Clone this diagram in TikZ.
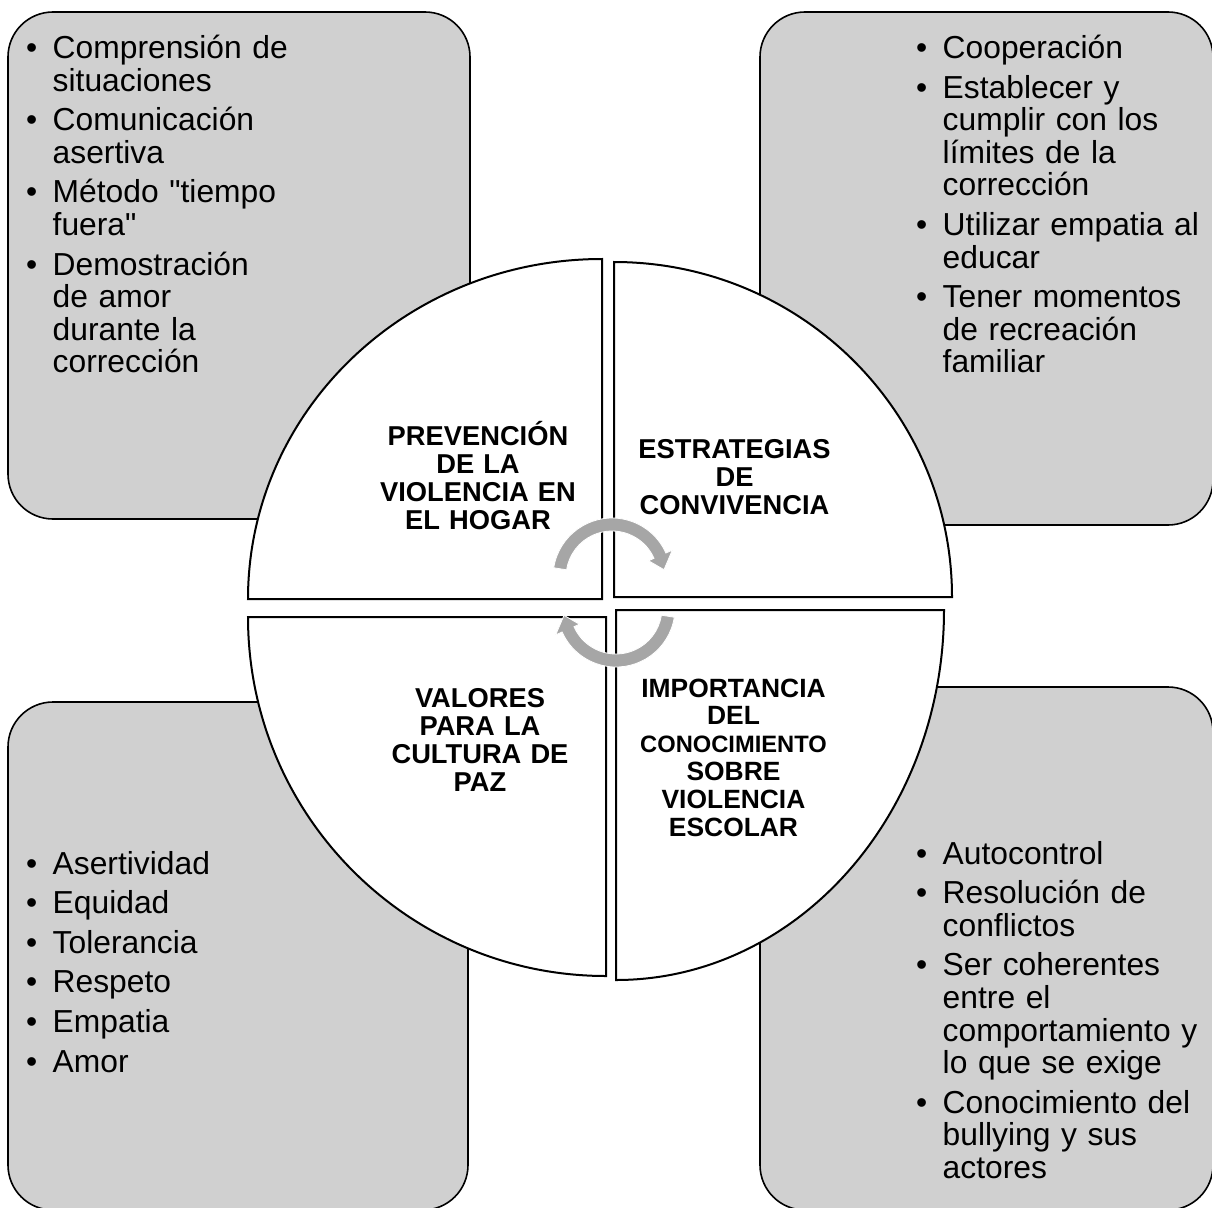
\documentclass[tikz,border=0pt]{standalone}
\usepackage{fontspec}
\setmainfont{Liberation Sans}[Ligatures=TeXOff]
\definecolor{boxgray}{RGB}{208,208,208}
\definecolor{arrgray}{RGB}{166,166,166}
\tikzset{
  outerbox/.style={draw=black, line width=1.6pt, fill=boxgray, rounded corners=45pt},
  quad/.style={draw=black, line width=2pt, fill=white, line join=miter},
  cyclearrow/.style={fill=arrgray, draw=white, line width=0.8pt},
  listtext/.style={anchor=base west, inner sep=0pt, text width=320pt, align=left,
    font=\fontsize{31.8}{32.6}\selectfont},
  qlabel/.style={anchor=base, inner sep=0pt, text width=300pt, align=center,
    font=\bfseries\fontsize{27.3}{28.3}\selectfont},
}
\newcommand{\bitem}[1]{\noindent\hangindent=26.5pt\hangafter=1\makebox[26.5pt][l]{•}#1\par}
\newcommand{\listsetup}{\setlength{\parskip}{7pt}\setlength{\parindent}{0pt}}
\begin{document}
\begin{tikzpicture}[x=1pt,y=1pt]
\useasboundingbox (0,0) rectangle (1212,-1207);
\clip (0,0) rectangle (1212,-1207);
% corner boxes
\path[outerbox] (8,-12) rectangle (470,-519);
\path[outerbox] (760,-12) rectangle (1213,-525);
\path[outerbox] (8,-702) rectangle (468,-1210);
\path[outerbox] (760,-687) rectangle (1213,-1210);
% quadrants
\path[quad] (602,-599) -- (248,-599) arc[start angle=180, end angle=90, x radius=354, y radius=340] -- cycle;
\path[quad] (614,-597) -- (614,-262) arc[start angle=90, end angle=0, x radius=338, y radius=335] -- cycle;
\path[quad] (606,-617) -- (248,-617) arc[start angle=180, end angle=270, x radius=358, y radius=359] -- cycle;
\path[quad] (616,-610) -- (944,-610) arc[start angle=0, end angle=-90, x radius=328, y radius=370] -- cycle;
% cycle arrows
\begin{scope}[shift={(612,-577)}]
  \path[cyclearrow] (171:59) arc[start angle=171, end angle=24, radius=59] -- (24:66) -- (8:52.5) -- (24:40) -- (24:46) arc[start angle=24, end angle=171, radius=46] -- cycle;
\end{scope}
\begin{scope}[shift={(616,-608)}, rotate=180]
  \path[cyclearrow] (171:59) arc[start angle=171, end angle=24, radius=59] -- (24:66) -- (8:52.5) -- (24:40) -- (24:46) arc[start angle=24, end angle=171, radius=46] -- cycle;
\end{scope}
% quadrant labels
\node[qlabel] (qTL) at (478,-445) {PREVENCIÓN\\DE LA\\VIOLENCIA EN\\EL HOGAR};
\node[qlabel] (qTR) at (734.5,-458.3) {ESTRATEGIAS\\DE\\CONVIVENCIA};
\node[qlabel] (qBL) at (480,-707) {VALORES\\PARA LA\\CULTURA DE\\PAZ};
\node[qlabel, font=\bfseries\fontsize{26.4}{27.8}\selectfont] (qBR) at (733.5,-697)
  {IMPORTANCIA\\DEL\\{\fontsize{23.7}{27.8}\selectfont CONOCIMIENTO}\\SOBRE\\VIOLENCIA\\ESCOLAR};
% lists
\node[listtext] (lTL) at (26,-58.5) {\listsetup
  \bitem{Comprensión de\newline situaciones}
  \bitem{Comunicación\newline asertiva}
  \bitem{Método "tiempo\newline fuera"}
  \bitem{Demostración\newline de amor\newline durante la\newline corrección}};
\node[listtext] (lTR) at (916,-58.5) {\listsetup
  \bitem{Cooperación}
  \bitem{Establecer y\newline cumplir con los\newline límites de la\newline corrección}
  \bitem{Utilizar empatia al\newline educar}
  \bitem{Tener momentos\newline de recreación\newline familiar}};
\node[listtext] (lBL) at (26,-874) {\listsetup
  \bitem{Asertividad}
  \bitem{Equidad}
  \bitem{Tolerancia}
  \bitem{Respeto}
  \bitem{Empatia}
  \bitem{Amor}};
\node[listtext] (lBR) at (916,-864) {\listsetup
  \bitem{Autocontrol}
  \bitem{Resolución de\newline conflictos}
  \bitem{Ser coherentes\newline entre el\newline comportamiento y\newline lo que se exige}
  \bitem{Conocimiento del\newline bullying y sus\newline actores}};
\end{tikzpicture}
\end{document}
